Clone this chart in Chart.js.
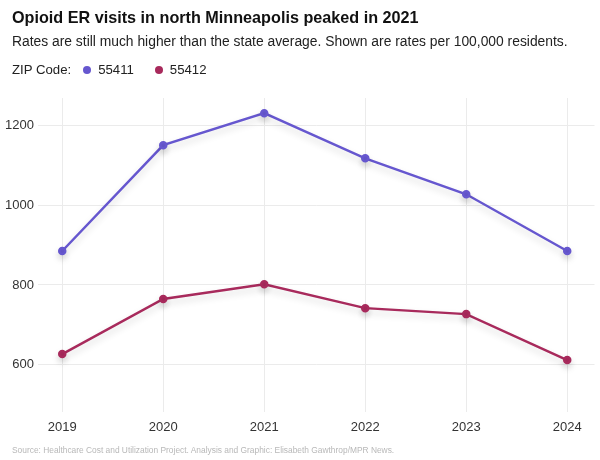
<!DOCTYPE html>
<html>
<head>
<meta charset="utf-8">
<script src="https://cdn.jsdelivr.net/npm/chart.js@4"></script>
<style>
    body { margin: 0; background: #fff; font-family: "Liberation Sans", Arial, sans-serif; }
    #wrap { position: relative; width: 600px; height: 460px; overflow: hidden; }
    #chart { position: absolute; left: 0; top: 0; }
    .title { position: absolute; left: 12px; top: 8px; font-size: 16.2px; font-weight: bold; color: #111; white-space: nowrap; }
    .subtitle { position: absolute; left: 12px; top: 33px; font-size: 13.85px; color: #222; white-space: nowrap; }
    .legend { position: absolute; left: 12px; top: 62px; font-size: 13.2px; color: #222; display: flex; align-items: center; white-space: nowrap; }
    .legend .item { display: flex; align-items: center; }
    .legend .dot { width: 8px; height: 8px; border-radius: 50%; margin-right: 7px; }
    .source { position: absolute; left: 12px; top: 445px; font-size: 8.4px; color: #b8b8b8; white-space: nowrap; }
</style>
</head>
<body>
<div id="wrap">
    <canvas id="chart" width="600" height="460"></canvas>
    <div class="title">Opioid ER visits in north Minneapolis peaked in 2021</div>
    <div class="subtitle">Rates are still much higher than the state average. Shown are rates per 100,000 residents.</div>
    <div class="legend" id="legend"><span>ZIP Code:</span></div>
    <div class="source">Source: Healthcare Cost and Utilization Project. Analysis and Graphic: Elisabeth Gawthrop/MPR News.</div>
</div>
<script>
const years = [2019, 2020, 2021, 2022, 2023, 2024];
const zipNames = ['55411', '55412'];
const zip55411 = [885, 1150, 1230, 1117, 1027, 885];
const zip55412 = [627, 765, 802, 742, 727, 612];
const yTicks = [600, 800, 1000, 1200];
const colors = ['#6657cf', '#a82a5c'];

// legend in html
const legend = document.getElementById('legend');
zipNames.forEach(function (name, i) {
    const item = document.createElement('span');
    item.className = 'item';
    item.style.marginLeft = (i === 0 ? 12 : 21) + 'px';
    item.innerHTML = '<span class="dot" style="background:' + colors[i] + '"></span>' + name;
    legend.appendChild(item);
});

function toPoints(values) {
    return values.map(function (v, i) { return { x: years[i], y: v }; });
}

// soft shadow under the lines
const lineShadow = {
    id: 'lineShadow',
    beforeDatasetDraw: function (chart) {
        const c = chart.ctx;
        c.save();
        c.shadowColor = 'rgba(0, 0, 0, 0.16)';
        c.shadowBlur = 7;
        c.shadowOffsetY = 4;
    },
    afterDatasetDraw: function (chart) {
        chart.ctx.restore();
    }
};

const ctx = document.getElementById('chart').getContext('2d');
const chart = new Chart(ctx, {
    type: 'line',
    data: {
        datasets: [
            {
                label: zipNames[0],
                data: toPoints(zip55411),
                borderColor: colors[0],
                backgroundColor: colors[0],
                borderWidth: 2.5,
                pointRadius: 3,
                pointHoverRadius: 3
            },
            {
                label: zipNames[1],
                data: toPoints(zip55412),
                borderColor: colors[1],
                backgroundColor: colors[1],
                borderWidth: 2.5,
                pointRadius: 3,
                pointHoverRadius: 3
            }
        ]
    },
    plugins: [lineShadow],
    options: {
        responsive: false,
        animation: false,
        layout: {
            padding: { top: 98, left: 0, right: 3, bottom: 20 }
        },
        scales: {
            x: {
                type: 'linear',
                min: 2018.76,
                max: 2024.27,
                afterBuildTicks: function (axis) {
                    axis.ticks = years.map(function (y) { return { value: y }; });
                },
                afterFit: function (axis) { axis.height = 28; },
                border: { display: false },
                grid: { color: '#ebebeb', drawTicks: false },
                ticks: {
                    padding: 8,
                    color: '#333',
                    font: { family: 'Liberation Sans', size: 13 },
                    callback: function (v) { return String(v); }
                }
            },
            y: {
                min: 482,
                max: 1268,
                afterBuildTicks: function (axis) {
                    axis.ticks = yTicks.map(function (v) { return { value: v }; });
                },
                afterFit: function (axis) { axis.width = 38; },
                border: { display: false },
                grid: { color: '#ebebeb', drawTicks: false },
                ticks: {
                    padding: 4,
                    color: '#333',
                    font: { family: 'Liberation Sans', size: 13 },
                    callback: function (v) { return String(v); }
                }
            }
        },
        plugins: {
            legend: { display: false },
            tooltip: { enabled: false }
        }
    }
});
</script>
</body>
</html>
